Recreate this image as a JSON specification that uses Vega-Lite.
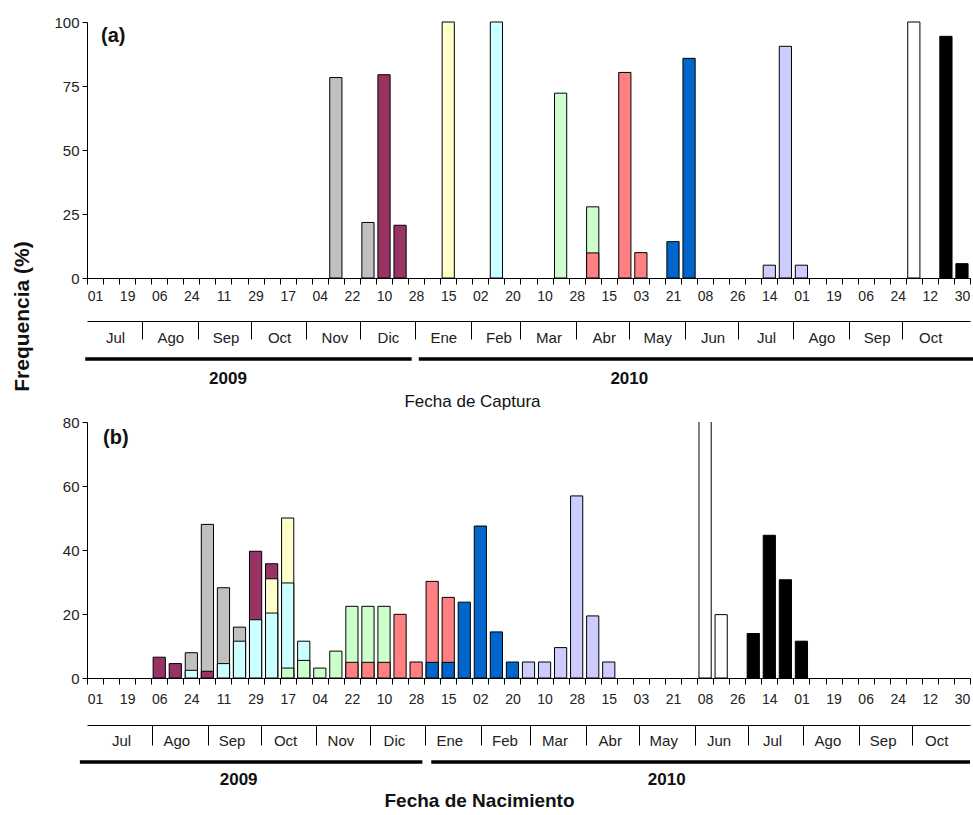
{
  "$schema": "https://vega.github.io/schema/vega-lite/v6.json",
  "background": "white",
  "padding": {"left": 11, "top": 15, "right": 0, "bottom": 0},
  "config": {
    "view": {"stroke": null},
    "axis": {"domainColor": "black", "tickColor": "black", "grid": false, "labelColor": "#222", "titleColor": "#111"}
  },
  "title": {"text": "Frequencia (%)", "orient": "left", "anchor": "middle", "offset": 21, "dx": 98, "fontSize": 21, "fontWeight": "bold", "font": "Liberation Sans", "color": "#111"},
  "datasets": {
    "captura": [
      {"fecha": "2009-11-13", "grupo": "G1", "valor": 78.3},
      {"fecha": "2009-12-01", "grupo": "G1", "valor": 21.7},
      {"fecha": "2009-12-10", "grupo": "G2", "valor": 79.4},
      {"fecha": "2009-12-19", "grupo": "G2", "valor": 20.6},
      {"fecha": "2010-01-15", "grupo": "G3", "valor": 100},
      {"fecha": "2010-02-11", "grupo": "G4", "valor": 100},
      {"fecha": "2010-03-19", "grupo": "G5", "valor": 72.2},
      {"fecha": "2010-04-06", "grupo": "G5", "valor": 27.8},
      {"fecha": "2010-04-06", "grupo": "G6", "valor": 9.8},
      {"fecha": "2010-04-24", "grupo": "G6", "valor": 80.3},
      {"fecha": "2010-05-03", "grupo": "G6", "valor": 9.9},
      {"fecha": "2010-05-21", "grupo": "G7", "valor": 14.2},
      {"fecha": "2010-05-30", "grupo": "G7", "valor": 85.8},
      {"fecha": "2010-07-14", "grupo": "G8", "valor": 5.0},
      {"fecha": "2010-07-23", "grupo": "G8", "valor": 90.5},
      {"fecha": "2010-08-01", "grupo": "G8", "valor": 5.0},
      {"fecha": "2010-10-03", "grupo": "G9", "valor": 100},
      {"fecha": "2010-10-21", "grupo": "G10", "valor": 94.4},
      {"fecha": "2010-10-30", "grupo": "G10", "valor": 5.6}
    ],
    "nacimiento": [
      {"fecha": "2009-08-06", "grupo": "G2", "valor": 6.5},
      {"fecha": "2009-08-15", "grupo": "G2", "valor": 4.5},
      {"fecha": "2009-09-02", "grupo": "G2", "valor": 2.1},
      {"fecha": "2009-09-29", "grupo": "G2", "valor": 39.6},
      {"fecha": "2009-10-08", "grupo": "G2", "valor": 35.7},
      {"fecha": "2009-08-24", "grupo": "G1", "valor": 7.9},
      {"fecha": "2009-09-02", "grupo": "G1", "valor": 48.0},
      {"fecha": "2009-09-11", "grupo": "G1", "valor": 28.2},
      {"fecha": "2009-09-20", "grupo": "G1", "valor": 15.9},
      {"fecha": "2009-08-24", "grupo": "G4", "valor": 2.4},
      {"fecha": "2009-09-11", "grupo": "G4", "valor": 4.5},
      {"fecha": "2009-09-20", "grupo": "G4", "valor": 11.5},
      {"fecha": "2009-09-29", "grupo": "G4", "valor": 18.2},
      {"fecha": "2009-10-08", "grupo": "G4", "valor": 20.3},
      {"fecha": "2009-10-17", "grupo": "G4", "valor": 29.7},
      {"fecha": "2009-10-26", "grupo": "G4", "valor": 11.5},
      {"fecha": "2009-10-08", "grupo": "G3", "valor": 31.0},
      {"fecha": "2009-10-17", "grupo": "G3", "valor": 50.0},
      {"fecha": "2009-10-17", "grupo": "G5", "valor": 3.1},
      {"fecha": "2009-10-26", "grupo": "G5", "valor": 5.5},
      {"fecha": "2009-11-04", "grupo": "G5", "valor": 3.1},
      {"fecha": "2009-11-13", "grupo": "G5", "valor": 8.4},
      {"fecha": "2009-11-22", "grupo": "G5", "valor": 22.4},
      {"fecha": "2009-12-01", "grupo": "G5", "valor": 22.4},
      {"fecha": "2009-12-10", "grupo": "G5", "valor": 22.4},
      {"fecha": "2009-11-22", "grupo": "G6", "valor": 4.9},
      {"fecha": "2009-12-01", "grupo": "G6", "valor": 4.9},
      {"fecha": "2009-12-10", "grupo": "G6", "valor": 4.9},
      {"fecha": "2009-12-19", "grupo": "G6", "valor": 19.9},
      {"fecha": "2009-12-28", "grupo": "G6", "valor": 5.0},
      {"fecha": "2010-01-06", "grupo": "G6", "valor": 30.2},
      {"fecha": "2010-01-15", "grupo": "G6", "valor": 25.2},
      {"fecha": "2010-01-06", "grupo": "G7", "valor": 4.9},
      {"fecha": "2010-01-15", "grupo": "G7", "valor": 4.9},
      {"fecha": "2010-01-24", "grupo": "G7", "valor": 23.7},
      {"fecha": "2010-02-02", "grupo": "G7", "valor": 47.5},
      {"fecha": "2010-02-11", "grupo": "G7", "valor": 14.4},
      {"fecha": "2010-02-20", "grupo": "G7", "valor": 5.0},
      {"fecha": "2010-03-01", "grupo": "G8", "valor": 5.0},
      {"fecha": "2010-03-10", "grupo": "G8", "valor": 5.0},
      {"fecha": "2010-03-19", "grupo": "G8", "valor": 9.5},
      {"fecha": "2010-03-28", "grupo": "G8", "valor": 56.9},
      {"fecha": "2010-04-06", "grupo": "G8", "valor": 19.4},
      {"fecha": "2010-04-15", "grupo": "G8", "valor": 5.0},
      {"fecha": "2010-06-08", "grupo": "G9", "valor": 80.2},
      {"fecha": "2010-06-17", "grupo": "G9", "valor": 19.8},
      {"fecha": "2010-07-05", "grupo": "G10", "valor": 13.9},
      {"fecha": "2010-07-14", "grupo": "G10", "valor": 44.6},
      {"fecha": "2010-07-23", "grupo": "G10", "valor": 30.7},
      {"fecha": "2010-08-01", "grupo": "G10", "valor": 11.5}
    ],
    "anios_a": [
      {"anio": "2009", "inicio": "2009-06-30", "fin": "2009-12-30", "centro": "2009-09-18"},
      {"anio": "2010", "inicio": "2010-01-03", "fin": "2010-11-10", "centro": "2010-05-01"}
    ],
    "anios_b": [
      {"anio": "2009", "inicio": "2009-06-27", "fin": "2010-01-05", "centro": "2009-09-24"},
      {"anio": "2010", "inicio": "2010-01-10", "fin": "2010-11-08", "centro": "2010-05-22"}
    ]
  },
  "spacing": 4,
  "vconcat": [
    {
      "width": 883,
      "height": 256,
      "title": {"text": "(a)", "anchor": "start", "frame": "group", "offset": -31, "dx": 14, "fontSize": 20, "fontWeight": "bold", "font": "Liberation Sans", "color": "#111"},
      "data": {"name": "captura"},
      "mark": {"type": "bar", "width": {"band": 0.76}, "stroke": "black", "strokeWidth": 1},
      "encoding": {
        "x": {
          "field": "fecha", "type": "ordinal",
          "scale": {"paddingInner": 0, "paddingOuter": 0, "domain": ["2009-07-01","2009-07-10","2009-07-19","2009-07-28","2009-08-06","2009-08-15","2009-08-24","2009-09-02","2009-09-11","2009-09-20","2009-09-29","2009-10-08","2009-10-17","2009-10-26","2009-11-04","2009-11-13","2009-11-22","2009-12-01","2009-12-10","2009-12-19","2009-12-28","2010-01-06","2010-01-15","2010-01-24","2010-02-02","2010-02-11","2010-02-20","2010-03-01","2010-03-10","2010-03-19","2010-03-28","2010-04-06","2010-04-15","2010-04-24","2010-05-03","2010-05-12","2010-05-21","2010-05-30","2010-06-08","2010-06-17","2010-06-26","2010-07-05","2010-07-14","2010-07-23","2010-08-01","2010-08-10","2010-08-19","2010-08-28","2010-09-06","2010-09-15","2010-09-24","2010-10-03","2010-10-12","2010-10-21","2010-10-30"]},
          "axis": {"title": null, "tickBand": "extent", "tickSize": 6, "labelPadding": 5, "labelAngle": 0, "labelOverlap": false, "labelFlush": false, "labelBound": false, "labelFont": "Liberation Sans Narrow, Arial Narrow, Liberation Sans, sans-serif", "labelFontSize": 14,
            "labelExpr": "(toDate(datum.value) - toDate('2009-07-01')) % 1555200000 === 0 ? substring(datum.value, 8, 10) : ''"}
        },
        "y": {"field": "valor", "type": "quantitative", "stack": null, "scale": {"domain": [0, 100], "nice": false},
          "axis": {"title": null, "values": [0, 25, 50, 75, 100], "tickSize": 5, "labelPadding": 3, "labelFont": "Liberation Sans", "labelFontSize": 15}},
        "color": {"field": "grupo", "type": "nominal", "legend": null,
          "scale": {"domain": ["G1","G2","G3","G4","G5","G6","G7","G8","G9","G10"], "range": ["#C0C0C0","#993366","#FFFFCC","#CCFFFF","#CCFFCC","#FF8080","#0066CC","#CCCCFF","#FFFFFF","#000000"]}},
        "order": {"field": "valor", "sort": "descending"}
      }
    },
    {
      "width": 883,
      "height": 104,
      "data": {"name": "anios_a"},
      "layer": [
        {
          "mark": {"type": "rule", "strokeWidth": 3.5, "color": "black"},
          "encoding": {
            "x": {"field": "inicio", "type": "temporal",
              "scale": {"type": "utc", "domain": [{"year": 2009, "month": 7, "date": 1, "utc": true}, {"year": 2010, "month": 11, "date": 8, "utc": true}]},
              "axis": {"orient": "bottom", "offset": -90, "tickCount": "month", "tickSize": 18, "labelPadding": -9, "labelOffset": 28, "labelAlign": "center", "labelBaseline": "top",
                "labelOverlap": false, "labelFlush": false, "labelBound": false,
                "labelFont": "Liberation Sans Narrow, Arial Narrow, Liberation Sans, sans-serif", "labelFontSize": 15,
                "tickOpacity": {"condition": {"test": "datum.value < toDate('2009-07-15') || datum.value > toDate('2010-10-15')", "value": 0}, "value": 1},
                "labelExpr": "datum.value > toDate('2010-10-15') ? '' : ['Ene','Feb','Mar','Abr','May','Jun','Jul','Ago','Sep','Oct','Nov','Dic'][utcmonth(datum.value)]",
                "title": "Fecha de Captura", "titleX": 385, "titleY": 80, "titleAlign": "center", "titleBaseline": "middle", "titleFont": "Liberation Sans", "titleFontSize": 17, "titleFontWeight": "normal"}},
            "x2": {"field": "fin"}
          }
        },
        {
          "mark": {"type": "text", "dy": 20, "baseline": "middle", "fontSize": 17, "fontWeight": "bold", "font": "Liberation Sans Narrow, Arial Narrow, Liberation Sans, sans-serif", "color": "#111"},
          "encoding": {
            "x": {"field": "centro", "type": "temporal"},
            "text": {"field": "anio"}
          }
        }
      ]
    },
    {
      "width": 883,
      "height": 256,
      "title": {"text": "(b)", "anchor": "start", "frame": "group", "offset": -33, "dx": 16, "fontSize": 20, "fontWeight": "bold", "font": "Liberation Sans", "color": "#111"},
      "data": {"name": "nacimiento"},
      "mark": {"type": "bar", "width": {"band": 0.76}, "stroke": "black", "strokeWidth": 1, "clip": true},
      "encoding": {
        "x": {
          "field": "fecha", "type": "ordinal",
          "scale": {"paddingInner": 0, "paddingOuter": 0, "domain": ["2009-07-01","2009-07-10","2009-07-19","2009-07-28","2009-08-06","2009-08-15","2009-08-24","2009-09-02","2009-09-11","2009-09-20","2009-09-29","2009-10-08","2009-10-17","2009-10-26","2009-11-04","2009-11-13","2009-11-22","2009-12-01","2009-12-10","2009-12-19","2009-12-28","2010-01-06","2010-01-15","2010-01-24","2010-02-02","2010-02-11","2010-02-20","2010-03-01","2010-03-10","2010-03-19","2010-03-28","2010-04-06","2010-04-15","2010-04-24","2010-05-03","2010-05-12","2010-05-21","2010-05-30","2010-06-08","2010-06-17","2010-06-26","2010-07-05","2010-07-14","2010-07-23","2010-08-01","2010-08-10","2010-08-19","2010-08-28","2010-09-06","2010-09-15","2010-09-24","2010-10-03","2010-10-12","2010-10-21","2010-10-30"]},
          "axis": {"title": null, "tickBand": "extent", "tickSize": 6, "labelPadding": 8, "labelAngle": 0, "labelOverlap": false, "labelFlush": false, "labelBound": false, "labelFont": "Liberation Sans Narrow, Arial Narrow, Liberation Sans, sans-serif", "labelFontSize": 14,
            "labelExpr": "(toDate(datum.value) - toDate('2009-07-01')) % 1555200000 === 0 ? substring(datum.value, 8, 10) : ''"}
        },
        "y": {"field": "valor", "type": "quantitative", "stack": null, "scale": {"domain": [0, 80], "nice": false},
          "axis": {"title": null, "values": [0, 20, 40, 60, 80], "tickSize": 5, "labelPadding": 3, "labelFont": "Liberation Sans", "labelFontSize": 15}},
        "color": {"field": "grupo", "type": "nominal", "legend": null,
          "scale": {"domain": ["G1","G2","G3","G4","G5","G6","G7","G8","G9","G10"], "range": ["#C0C0C0","#993366","#FFFFCC","#CCFFFF","#CCFFCC","#FF8080","#0066CC","#CCCCFF","#FFFFFF","#000000"]}},
        "order": {"field": "valor", "sort": "descending"}
      }
    },
    {
      "width": 883,
      "height": 104,
      "data": {"name": "anios_b"},
      "layer": [
        {
          "mark": {"type": "rule", "strokeWidth": 3.5, "color": "black"},
          "encoding": {
            "x": {"field": "inicio", "type": "temporal",
              "scale": {"type": "utc", "domain": [{"year": 2009, "month": 7, "date": 1, "utc": true}, {"year": 2010, "month": 11, "date": 8, "utc": true}]},
              "axis": {"orient": "bottom", "offset": -89, "tickCount": "month", "tickSize": 20, "tickOffset": 10, "labelPadding": -12, "labelOffset": 24, "labelAlign": "center", "labelBaseline": "top",
                "labelOverlap": false, "labelFlush": false, "labelBound": false,
                "labelFont": "Liberation Sans Narrow, Arial Narrow, Liberation Sans, sans-serif", "labelFontSize": 15,
                "tickOpacity": {"condition": {"test": "datum.value < toDate('2009-07-15') || datum.value > toDate('2010-10-15')", "value": 0}, "value": 1},
                "labelExpr": "datum.value > toDate('2010-10-15') ? '' : ['Ene','Feb','Mar','Abr','May','Jun','Jul','Ago','Sep','Oct','Nov','Dic'][utcmonth(datum.value)]",
                "title": "Fecha de Nacimiento", "titleX": 392, "titleY": 75, "titleAlign": "center", "titleBaseline": "middle", "titleFont": "Liberation Sans", "titleFontSize": 19, "titleFontWeight": "bold"}},
            "x2": {"field": "fin"}
          }
        },
        {
          "mark": {"type": "text", "dy": 18, "baseline": "middle", "fontSize": 17, "fontWeight": "bold", "font": "Liberation Sans Narrow, Arial Narrow, Liberation Sans, sans-serif", "color": "#111"},
          "encoding": {
            "x": {"field": "centro", "type": "temporal"},
            "text": {"field": "anio"}
          }
        }
      ]
    }
  ]
}
